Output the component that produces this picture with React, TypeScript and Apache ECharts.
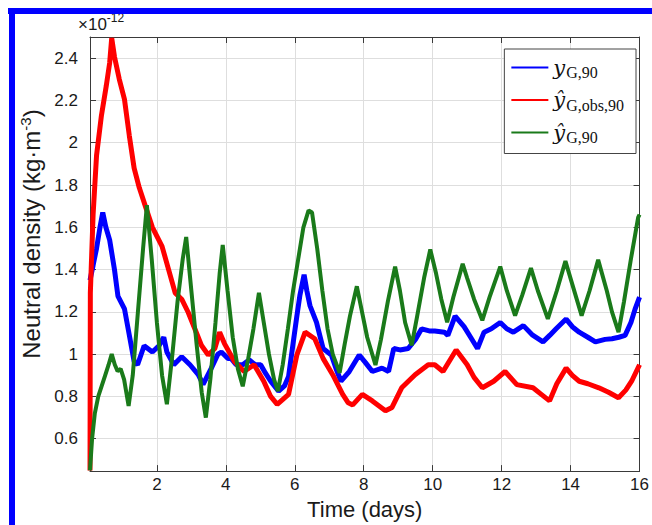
import React, { useEffect, useRef } from "react";
import * as echarts from "echarts";

// ---- Data (time in days, neutral density in 1e-12 kg/m^3) ----
const xTickStep = 2;
const yTickStep = 0.2;
const xRange = [0.06, 16];
const yRange = [0.447, 2.5];

const seriesNames = ["yG90", "yhatGobs90", "yhatG90"];
const legendLabels: Record<string, string> = {
  yG90: "{y|y}{s|G,90}",
  yhatGobs90: "{y|ŷ}{s|G,obs,90}",
  yhatG90: "{y|ŷ}{s|G,90}",
};

const blueData: [number, number][] = [
  [0.06, 1.35], [0.15, 1.42], [0.25, 1.5], [0.35, 1.6], [0.43, 1.67], [0.52, 1.6],
  [0.63, 1.54], [0.77, 1.4], [0.87, 1.275], [1.06, 1.214], [1.2, 1.09], [1.34, 0.965],
  [1.44, 0.95], [1.63, 1.04], [1.87, 1.01], [2.06, 1.04], [2.2, 1.08], [2.29, 1.01],
  [2.49, 0.95], [2.72, 0.988], [2.96, 0.95], [3.2, 0.903], [3.34, 0.857], [3.58, 0.934],
  [3.77, 1.0], [3.87, 1.01], [4.06, 0.98], [4.15, 0.98], [4.3, 0.95], [4.49, 0.95],
  [4.68, 0.973], [4.85, 0.95], [5.01, 0.95], [5.15, 0.91], [5.3, 0.872], [5.53, 0.825],
  [5.7, 0.85], [5.82, 0.895], [5.95, 1.05], [6.06, 1.18], [6.15, 1.28], [6.27, 1.376],
  [6.35, 1.3], [6.44, 1.23], [6.63, 1.15], [6.82, 1.027], [7.06, 0.996], [7.2, 0.93],
  [7.34, 0.872], [7.58, 0.918], [7.87, 0.996], [8.05, 0.96], [8.25, 0.918], [8.53, 0.934],
  [8.72, 0.918], [8.87, 1.027], [9.05, 1.02], [9.29, 1.027], [9.5, 1.07], [9.68, 1.12],
  [9.9, 1.11], [10.06, 1.11], [10.34, 1.104], [10.44, 1.089], [10.65, 1.18], [10.91, 1.13],
  [11.1, 1.08], [11.3, 1.027], [11.49, 1.104], [11.7, 1.12], [11.96, 1.15], [12.15, 1.12],
  [12.34, 1.104], [12.63, 1.135], [12.9, 1.09], [13.2, 1.058], [13.4, 1.09], [13.58, 1.12],
  [13.87, 1.166], [14.05, 1.13], [14.25, 1.104], [14.5, 1.08], [14.72, 1.058], [15.0, 1.07],
  [15.2, 1.073], [15.4, 1.08], [15.58, 1.089], [15.75, 1.15], [15.87, 1.213], [16.0, 1.27],
];

const redData: [number, number][] = [
  [0.06, 0.45], [0.07, 1.29], [0.15, 1.66], [0.25, 1.94], [0.39, 2.127], [0.53, 2.267],
  [0.63, 2.377], [0.69, 2.495], [0.77, 2.407], [0.91, 2.3], [1.06, 2.205], [1.2, 2.034],
  [1.34, 1.88], [1.49, 1.787], [1.68, 1.693], [1.87, 1.6], [2.15, 1.51], [2.34, 1.4],
  [2.53, 1.29], [2.72, 1.26], [2.91, 1.197], [3.1, 1.12], [3.29, 1.042], [3.49, 0.996],
  [3.68, 1.027], [3.82, 1.104], [3.96, 1.05], [4.25, 0.965], [4.53, 0.918], [4.82, 0.95],
  [5.1, 0.872], [5.3, 0.8], [5.49, 0.763], [5.82, 0.81], [6.06, 0.996], [6.3, 1.104],
  [6.58, 1.073], [6.82, 0.98], [7.1, 0.903], [7.39, 0.81], [7.55, 0.77], [7.68, 0.76],
  [7.96, 0.81], [8.25, 0.779], [8.63, 0.732], [8.82, 0.748], [9.1, 0.841], [9.49, 0.903],
  [9.87, 0.95], [10.06, 0.95], [10.3, 0.918], [10.68, 1.02], [11.0, 0.95], [11.2, 0.89],
  [11.44, 0.841], [11.77, 0.872], [12.1, 0.918], [12.44, 0.856], [12.91, 0.841], [13.15, 0.81],
  [13.39, 0.779], [13.6, 0.86], [13.87, 0.934], [14.05, 0.9], [14.25, 0.872], [14.5, 0.86],
  [14.82, 0.841], [15.1, 0.82], [15.39, 0.794], [15.6, 0.83], [15.77, 0.872], [16.0, 0.95],
];

const greenData: [number, number][] = [
  [0.06, 0.45], [0.12, 0.6], [0.2, 0.72], [0.3, 0.8], [0.4, 0.85], [0.5, 0.9],
  [0.6, 0.95], [0.69, 1.0], [0.78, 0.95], [0.86, 0.92], [0.95, 0.93], [1.05, 0.88],
  [1.18, 0.755], [1.3, 0.9], [1.45, 1.2], [1.6, 1.5], [1.71, 1.705], [1.85, 1.45],
  [2.0, 1.15], [2.15, 0.9], [2.29, 0.763], [2.45, 1.0], [2.6, 1.25], [2.75, 1.45],
  [2.85, 1.554], [3.0, 1.3], [3.15, 1.05], [3.3, 0.82], [3.42, 0.7], [3.55, 0.88],
  [3.7, 1.15], [3.82, 1.38], [3.91, 1.517], [4.05, 1.3], [4.2, 1.08], [4.35, 0.93],
  [4.49, 0.848], [4.65, 0.98], [4.8, 1.12], [4.96, 1.29], [5.1, 1.15], [5.25, 1.0],
  [5.4, 0.88], [5.51, 0.825], [5.65, 0.95], [5.8, 1.12], [5.95, 1.3], [6.1, 1.45],
  [6.25, 1.6], [6.4, 1.68], [6.5, 1.67], [6.65, 1.5], [6.8, 1.3], [6.95, 1.12],
  [7.1, 1.0], [7.3, 0.912], [7.45, 1.05], [7.6, 1.18], [7.8, 1.321], [7.95, 1.2],
  [8.1, 1.08], [8.34, 0.949], [8.5, 1.07], [8.7, 1.25], [8.91, 1.414], [9.05, 1.3],
  [9.2, 1.15], [9.39, 1.042], [9.55, 1.18], [9.75, 1.36], [9.93, 1.495], [10.1, 1.38],
  [10.25, 1.26], [10.42, 1.151], [10.6, 1.27], [10.87, 1.427], [11.0, 1.36], [11.2, 1.26],
  [11.44, 1.16], [11.65, 1.27], [11.96, 1.414], [12.15, 1.3], [12.39, 1.182], [12.6, 1.28],
  [12.85, 1.407], [13.05, 1.3], [13.34, 1.167], [13.6, 1.3], [13.85, 1.44], [14.05, 1.33],
  [14.32, 1.182], [14.55, 1.3], [14.8, 1.446], [15.05, 1.3], [15.2, 1.2], [15.39, 1.104],
  [15.55, 1.25], [15.75, 1.45], [15.96, 1.647], [16.0, 1.66],
];

const FONT = "Liberation Sans, Arial, sans-serif";
const AXIS_COLOR = "#3a3a3a";
const GRID_COLOR = "#dedede";

if (typeof document !== "undefined") {
  document.documentElement.style.overflow = "hidden";
  document.body.style.margin = "0";
  document.body.style.overflow = "hidden";
}

export default function App() {
  const ref = useRef<HTMLDivElement>(null);

  useEffect(() => {
    document.documentElement.style.overflow = "hidden";
    document.body.style.margin = "0";
    if (!ref.current) return;
    const chart = echarts.init(ref.current, undefined, { renderer: "svg", width: 652, height: 525 });

    const tickStyle = { show: true, inside: true, length: 6, lineStyle: { color: AXIS_COLOR, width: 1 } };
    const lineStyle = { show: true, lineStyle: { color: AXIS_COLOR, width: 1 } };

    const option: any = {
      animation: false,
      backgroundColor: "#ffffff",
      grid: { left: 90, right: 4, top: 37, bottom: 47, containLabel: false },
      xAxis: [
        {
          type: "value",
          min: xRange[0],
          max: xRange[1],
          splitNumber: 8,
          minInterval: xTickStep,
          maxInterval: xTickStep,
          axisLine: lineStyle,
          axisTick: tickStyle,
          splitLine: { show: true, lineStyle: { color: GRID_COLOR, width: 1 } },
          axisLabel: {
            showMinLabel: false,
            margin: 5,
            color: "#1a1a1a",
            fontSize: 17,
            fontFamily: FONT,
          },
          name: "Time (days)",
          nameLocation: "middle",
          nameGap: 20,
          nameTextStyle: { fontSize: 22, fontFamily: FONT, color: "#1a1a1a" },
        },
        {
          type: "value",
          position: "top",
          min: xRange[0],
          max: xRange[1],
          splitNumber: 8,
          minInterval: xTickStep,
          maxInterval: xTickStep,
          axisLine: lineStyle,
          axisTick: tickStyle,
          splitLine: { show: false },
          axisLabel: { show: false },
        },
      ],
      yAxis: [
        {
          type: "value",
          min: yRange[0],
          max: yRange[1],
          splitNumber: 10,
          minInterval: yTickStep,
          maxInterval: yTickStep,
          axisLine: lineStyle,
          axisTick: tickStyle,
          splitLine: { show: true, lineStyle: { color: GRID_COLOR, width: 1 } },
          axisLabel: {
            showMinLabel: false,
            showMaxLabel: false,
            margin: 12,
            color: "#1a1a1a",
            fontSize: 17,
            fontFamily: FONT,
          },
          name: "Neutral density (kg·m{sup|-3})",
          nameLocation: "middle",
          nameGap: 42,
          nameRotate: 90,
          nameTextStyle: {
            fontSize: 24,
            fontFamily: FONT,
            color: "#1a1a1a",
            padding: [0, 0, 0, 40],
            rich: {
              sup: { fontSize: 15, fontFamily: FONT, color: "#1a1a1a", padding: [0, 0, 12, 0] },
            },
          },
        },
        {
          type: "value",
          position: "right",
          min: yRange[0],
          max: yRange[1],
          splitNumber: 10,
          minInterval: yTickStep,
          maxInterval: yTickStep,
          axisLine: lineStyle,
          axisTick: tickStyle,
          splitLine: { show: false },
          axisLabel: { show: false },
        },
      ],
      legend: {
        orient: "vertical",
        right: 16,
        top: 49,
        data: seriesNames,
        icon: "rect",
        itemWidth: 37,
        itemHeight: 2,
        itemGap: 9,
        padding: [8, 12, 8, 7],
        backgroundColor: "#ffffff",
        borderColor: "#444444",
        borderWidth: 1,
        borderRadius: 0,
        formatter: (name: string) => legendLabels[name],
        textStyle: {
          color: "#111111",
          rich: {
            y: {
              fontFamily: "DejaVu Serif, Liberation Serif, serif",
              fontStyle: "italic",
              fontSize: 21,
              color: "#111111",
            },
            s: {
              fontFamily: "Liberation Serif, DejaVu Serif, serif",
              fontSize: 16,
              color: "#111111",
              padding: [10, 0, 0, 1],
            },
          },
        },
      },
      graphic: [
        {
          type: "rect",
          z: 100,
          silent: true,
          shape: { x: 8, y: 8, width: 644, height: 6 },
          style: { fill: "#0000ff" },
        },
        {
          type: "rect",
          z: 100,
          silent: true,
          shape: { x: 9, y: 8, width: 6, height: 517 },
          style: { fill: "#0000ff" },
        },
        {
          type: "text",
          left: 78,
          top: 12,
          style: {
            text: "{a|×10}{b|-12}",
            rich: {
              a: { fontSize: 17, fontFamily: FONT, fill: "#1a1a1a" },
              b: { fontSize: 12, fontFamily: FONT, fill: "#1a1a1a", padding: [0, 0, 12, 0] },
            },
          },
        },
      ],
      series: [
        {
          name: seriesNames[0],
          type: "line",
          data: blueData,
          showSymbol: false,
          symbol: "none",
          color: "#0000ff",
          lineStyle: { width: 5, color: "#0000ff" },
          z: 2,
        },
        {
          name: seriesNames[1],
          type: "line",
          data: redData,
          showSymbol: false,
          symbol: "none",
          color: "#ff0000",
          lineStyle: { width: 5, color: "#ff0000" },
          z: 3,
        },
        {
          name: seriesNames[2],
          type: "line",
          data: greenData,
          showSymbol: false,
          symbol: "none",
          color: "#1a7a1a",
          lineStyle: { width: 4, color: "#1a7a1a" },
          z: 4,
        },
      ],
    };

    chart.setOption(option);
    return () => chart.dispose();
  }, []);

  return <div ref={ref} style={{ width: 652, height: 525, overflow: "hidden" }} />;
}
